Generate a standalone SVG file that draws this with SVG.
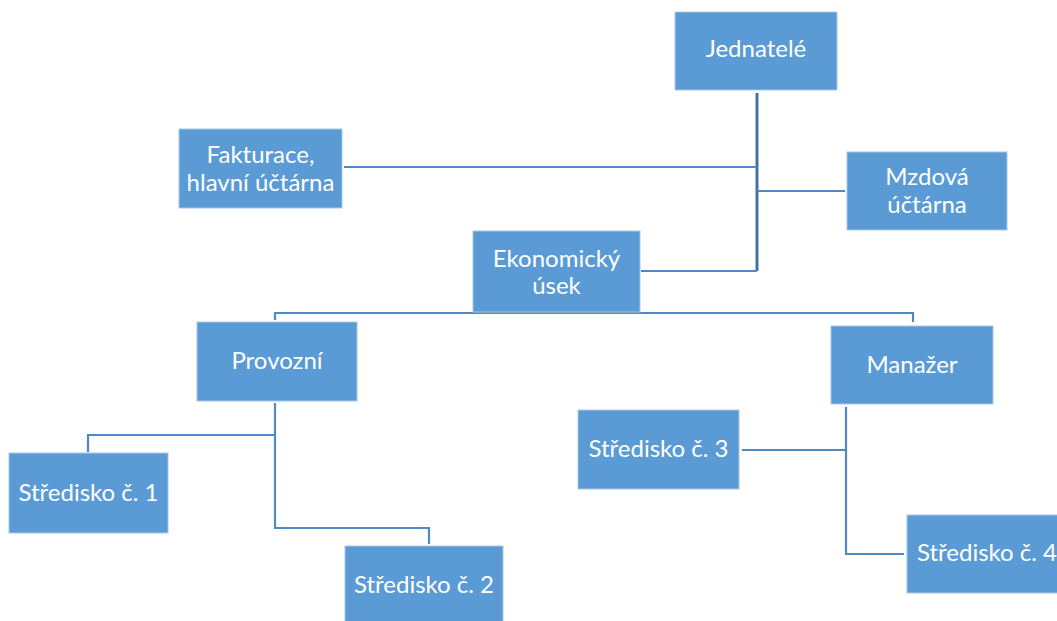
<svg xmlns="http://www.w3.org/2000/svg" width="1057" height="621" viewBox="0 0 1057 621">
<style>
.box{fill:#5B9BD5;stroke:#A9C8E8;stroke-width:1}
.t{font-family:Lato,"Liberation Sans",sans-serif;font-size:24px;fill:#FFFFFF;text-anchor:middle}
.c{fill:none;stroke:#4F88C2;stroke-width:2.2}
.trunk{fill:none;stroke:#4472A0;stroke-width:3}
</style>
<rect width="1057" height="621" fill="#FFFFFF"/>
<g id="connectors">
<path class="trunk" d="M757,93 V271"/>
<path class="c" d="M344,167 H757"/>
<path class="c" d="M757,191 H845"/>
<path class="c" d="M641,271 H757"/>
<path class="c" d="M275,320 V313 H913 V322"/>
<path class="c" d="M275,403 V528 H429 V544"/>
<path class="c" d="M275,435 H88 V452"/>
<path class="c" d="M846,407 V554 H904"/>
<path class="c" d="M742,450 H846"/>
</g>
<g id="jednatele"><rect class="box" x="675" y="12" width="162" height="78"/><text class="t" x="756" y="57">Jednatelé</text></g>
<g id="fakturace"><rect class="box" x="179" y="129" width="163" height="79"/><text class="t" x="260.5" y="163">Fakturace,</text><text class="t" x="260.5" y="191">hlavní účtárna</text></g>
<g id="mzdova"><rect class="box" x="847" y="152" width="160" height="78"/><text class="t" x="927" y="185">Mzdová</text><text class="t" x="927" y="213">účtárna</text></g>
<g id="ekonomicky"><rect class="box" x="473" y="231" width="167" height="81"/><text class="t" x="556.5" y="267">Ekonomický</text><text class="t" x="556.5" y="294">úsek</text></g>
<g id="provozni"><rect class="box" x="197" y="322" width="160" height="79"/><text class="t" x="277" y="369">Provozní</text></g>
<g id="manazer"><rect class="box" x="831" y="326" width="162" height="78"/><text class="t" x="912" y="373">Manažer</text></g>
<g id="stredisko1"><rect class="box" x="9" y="453" width="159" height="80"/><text class="t" x="88.5" y="501">Středisko č. 1</text></g>
<g id="stredisko2"><rect class="box" x="345" y="546" width="158" height="80"/><text class="t" x="424" y="593">Středisko č. 2</text></g>
<g id="stredisko3"><rect class="box" x="578" y="410" width="161" height="79"/><text class="t" x="658.5" y="457">Středisko č. 3</text></g>
<g id="stredisko4"><rect class="box" x="907" y="515" width="160" height="78"/><text class="t" x="987" y="561">Středisko č. 4</text></g>
</svg>
